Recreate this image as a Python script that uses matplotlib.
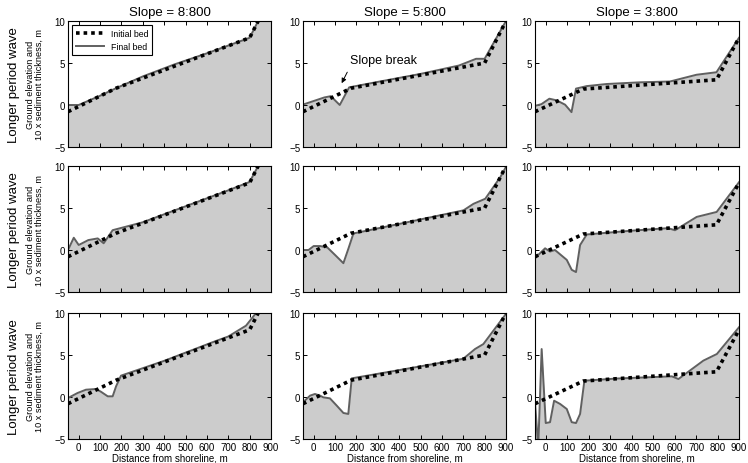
import matplotlib
matplotlib.use('Agg')
import matplotlib.pyplot as plt

plt.rcParams['font.family'] = ['Liberation Sans', 'DejaVu Sans']

slopes = ['Slope = 8:800', 'Slope = 5:800', 'Slope = 3:800']
row_label = 'Longer period wave'

# initial bed, one per slope (same for every row)
init_x_8 = [-50, 175, 800, 900]
init_y_8 = [-0.8, 2.0, 8.0, 13.0]
init_x_5 = [-50, 175, 800, 900]
init_y_5 = [-0.8, 2.0, 5.0, 10.0]
init_x_3 = [-50, 175, 795, 900]
init_y_3 = [-0.8, 1.9, 3.0, 8.0]

# final bed, row 1
r1_x_8 = [-50, 0, 100, 175, 300, 450, 600, 800, 840, 900]
r1_y_8 = [0.0, 0.0, 1.1, 2.0, 3.4, 4.85, 6.15, 8.0, 10.0, 13.0]
r1_x_5 = [-50, 50, 80, 122, 166, 300, 500, 680, 760, 800, 900]
r1_y_5 = [0.05, 0.9, 1.05, 0.0, 2.1, 2.75, 3.7, 4.7, 5.5, 5.5, 10.0]
r1_x_3 = [-50, -20, 17, 51, 90, 120, 141, 191, 284, 439, 579, 702, 795, 900]
r1_y_3 = [-0.1, 0.1, 0.75, 0.55, 0.04, -0.85, 1.95, 2.25, 2.5, 2.7, 2.8, 3.6, 3.9, 8.0]

# final bed, row 2
r2_x_8 = [-50, -23, 0, 6, 45, 89, 117, 159, 300, 500, 700, 800, 840, 900]
r2_y_8 = [0.0, 1.46, 0.6, 0.67, 1.18, 1.38, 0.8, 2.36, 3.3, 5.2, 7.1, 8.1, 10.0, 13.0]
r2_x_5 = [-50, -24, 0, 30, 64, 100, 139, 163, 186, 400, 701, 748, 803, 873, 900]
r2_y_5 = [0.0, 0.0, 0.47, 0.47, 0.3, -0.59, -1.57, 0.2, 1.97, 3.1, 4.72, 5.5, 6.1, 8.66, 9.9]
r2_x_3 = [-50, -27, -3, 20, 43, 98, 121, 141, 160, 191, 400, 570, 602, 703, 796, 900]
r2_y_3 = [-0.98, -0.39, 0.2, -0.19, 0.0, -1.18, -2.36, -2.63, 0.59, 1.85, 2.3, 2.6, 2.35, 3.94, 4.53, 8.07]

# final bed, row 3
r3_x_8 = [-50, -5, 34, 81, 104, 136, 159, 175, 198, 400, 635, 700, 783, 830, 900]
r3_y_8 = [-0.12, 0.48, 0.87, 0.95, 0.63, 0.08, 0.08, 1.27, 2.54, 4.3, 6.6, 7.2, 8.49, 10.0, 12.5]
r3_x_5 = [-50, -17, 6, 30, 45, 76, 108, 139, 162, 178, 400, 700, 755, 794, 900]
r3_y_5 = [-0.63, 0.16, 0.36, 0.16, -0.04, -0.16, -1.03, -1.9, -2.02, 2.22, 3.2, 4.55, 5.71, 6.3, 9.9]
r3_x_3 = [-50, -35, -19, 0, 20, 39, 67, 98, 121, 141, 160, 180, 331, 587, 618, 734, 797, 900]
r3_y_3 = [-0.6, -6.0, 5.71, -3.1, -3.0, -0.44, -0.83, -1.43, -3.0, -3.1, -2.02, 1.94, 2.2, 2.46, 2.14, 4.33, 5.12, 8.3]

initial = [(init_x_8, init_y_8), (init_x_5, init_y_5), (init_x_3, init_y_3)]
final = [[(r1_x_8, r1_y_8), (r1_x_5, r1_y_5), (r1_x_3, r1_y_3)],
         [(r2_x_8, r2_y_8), (r2_x_5, r2_y_5), (r2_x_3, r2_y_3)],
         [(r3_x_8, r3_y_8), (r3_x_5, r3_y_5), (r3_x_3, r3_y_3)]]

W, H = 748.0, 464.0
lefts = [68, 303, 535]
widths = [203, 203, 204]
tops = [22, 167, 314]
ah = 126

fig = plt.figure(figsize=(7.48, 4.64), dpi=100)

for r in range(3):
    for c in range(3):
        ax = fig.add_axes([lefts[c] / W, 1 - (tops[r] + ah) / H, widths[c] / W, ah / H])
        fx, fy = final[r][c]
        ix, iy = initial[c]
        ax.fill_between(fx, fy, -20, color='#cccccc', lw=0)
        ax.plot(fx, fy, color='#606060', lw=1.4, label='Final bed')
        ax.plot(ix, iy, color='black', lw=2.6, linestyle=(0, (1, 1.1)), label='Initial bed')
        ax.set_xlim(-50, 900)
        ax.set_ylim(-5, 10)
        ax.set_yticks([-5, 0, 5, 10])
        ax.set_xticks(range(0, 1000, 100))
        ax.tick_params(direction='in', top=True, right=True, length=3, width=0.7,
                       labelsize=7, pad=2)
        for s in ax.spines.values():
            s.set_linewidth(0.8)
        if r < 2:
            ax.set_xticklabels([])
        else:
            ax.set_xlabel('Distance from shoreline, m', fontsize=7, labelpad=0.5)
        if c == 0:
            ax.set_ylabel('Ground elevation and\n10 x sediment thickness, m', fontsize=6.6,
                          linespacing=1.0)
            ax.yaxis.set_label_coords(-0.12, 0.5)
            fig.text(14 / W, 1 - (tops[r] + ah / 2) / H, row_label, rotation=90,
                     fontsize=9.5, ha='center', va='center')
        if r == 0:
            ax.set_title(slopes[c], fontsize=9.5, pad=4)
        if r == 0 and c == 0:
            h, l = ax.get_legend_handles_labels()
            leg = ax.legend([h[1], h[0]], [l[1], l[0]], loc='upper left', fontsize=6.3,
                            fancybox=False, edgecolor='black', handlelength=3.2,
                            borderaxespad=0.5, framealpha=1)
            leg.get_frame().set_linewidth(0.8)
        if r == 0 and c == 1:
            ax.annotate('', xy=(125, 2.3), xytext=(163, 4.2),
                        arrowprops=dict(arrowstyle='-|>', color='black', lw=0.7,
                                        mutation_scale=7))
            ax.text(172, 5.4, 'Slope break', fontsize=9, va='center')

plt.savefig('out.png', dpi=100)
